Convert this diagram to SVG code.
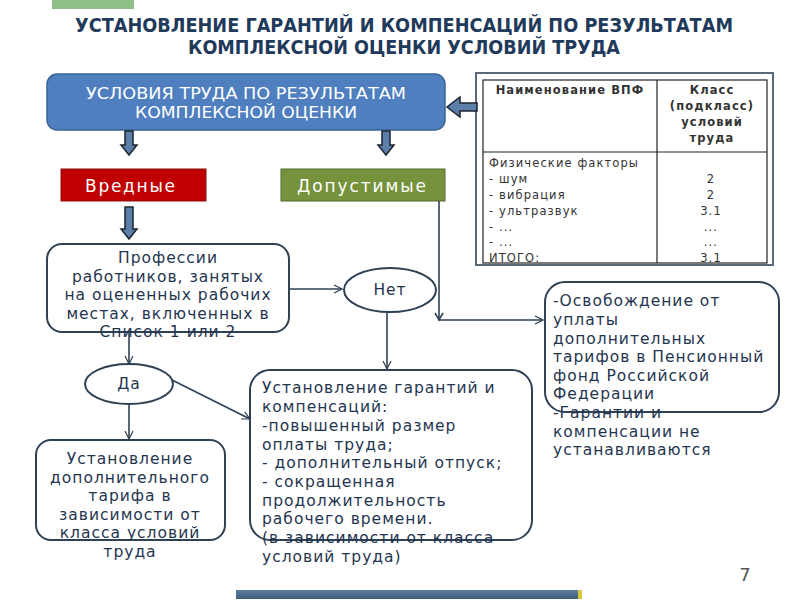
<svg xmlns="http://www.w3.org/2000/svg" width="800" height="600" viewBox="0 0 800 600">
<defs>
<marker id="open" markerWidth="10" markerHeight="10" refX="9" refY="5" orient="auto" markerUnits="userSpaceOnUse">
<path d="M1,1 L9,5 L1,9" fill="none" stroke="#2f4154" stroke-width="1.2"/>
</marker>
<linearGradient id="bar" x1="0" y1="0" x2="0" y2="1">
<stop offset="0" stop-color="#5c7d9c"/><stop offset="1" stop-color="#3e5f7e"/>
</linearGradient>
</defs>
<style>
.t{font-family:"DejaVu Sans","Liberation Sans",sans-serif;fill:#1f3550}
.title{font-family:"DejaVu Sans Condensed","DejaVu Sans",sans-serif;font-weight:bold;font-size:19px;fill:#1f3a5a;text-anchor:middle}
.box{fill:#fff;stroke:#2f4154;stroke-width:2}
.b15{font-size:15.5px;letter-spacing:1px}
.c{text-anchor:middle}
.w{fill:#fff}
.tb{font-size:11.5px;fill:#333;letter-spacing:1.1px}
.ln{fill:none;stroke:#2f4154;stroke-width:1.6}
.blk{fill:#5b7fa8;stroke:#1a2430;stroke-width:1.5}
.lab{font-size:17px;letter-spacing:2px}
</style>
<rect width="800" height="600" fill="#fff"/>
<rect x="52" y="0" width="82" height="9" fill="#8dbf86"/>
<text class="title" x="404" y="32" textLength="658" lengthAdjust="spacingAndGlyphs">УСТАНОВЛЕНИЕ ГАРАНТИЙ И КОМПЕНСАЦИЙ ПО РЕЗУЛЬТАТАМ</text>
<text class="title" x="404" y="54" textLength="432" lengthAdjust="spacingAndGlyphs">КОМПЛЕКСНОЙ ОЦЕНКИ УСЛОВИЙ ТРУДА</text>

<g id="main">
<rect x="47" y="74" width="398" height="56" rx="10" fill="#4f7fbf" stroke="#3a6496" stroke-width="1.5"/>
<text class="t w c" x="246" y="99" font-size="15" textLength="320" lengthAdjust="spacingAndGlyphs">УСЛОВИЯ ТРУДА ПО РЕЗУЛЬТАТАМ</text>
<text class="t w c" x="246" y="118" font-size="15" textLength="222" lengthAdjust="spacingAndGlyphs">КОМПЛЕКСНОЙ ОЦЕНКИ</text>
</g>

<g id="vrednye">
<rect x="61" y="169" width="145" height="32" fill="#c00000" stroke="#8a1010" stroke-width="1"/>
<text class="t w lab" x="85" y="192" textLength="92">Вредные</text>
</g>
<g id="dopustimye">
<rect x="281" y="169" width="164" height="32" fill="#76923c" stroke="#556b2a" stroke-width="1"/>
<text class="t w lab" x="297" y="192" textLength="131">Допустимые</text>
</g>

<g id="table">
<rect x="476" y="73" width="297" height="192" fill="#fff" stroke="#5a6a78" stroke-width="2"/>
<rect x="483" y="80" width="284" height="183" fill="#fff" stroke="#222" stroke-width="1.2"/>
<line x1="657" y1="80" x2="657" y2="263" stroke="#222" stroke-width="1.2"/>
<line x1="483" y1="152" x2="767" y2="152" stroke="#222" stroke-width="1.2"/>
<g class="t tb" font-weight="bold" fill="#333">
<text x="570" y="94" class="c">Наименование ВПФ</text>
<text x="712" y="94" class="c">Класс</text>
<text x="712" y="110" class="c">(подкласс)</text>
<text x="712" y="126" class="c">условий</text>
<text x="712" y="142" class="c">труда</text>
</g>
<g class="t tb">
<text x="489" y="167">Физические факторы</text>
<text x="489" y="183">- шум</text>
<text x="489" y="199">- вибрация</text>
<text x="489" y="215">- ультразвук</text>
<text x="489" y="231">- ...</text>
<text x="489" y="246">- ...</text>
<text x="489" y="262">ИТОГО:</text>
<text x="711" y="183" class="c">2</text>
<text x="711" y="199" class="c">2</text>
<text x="711" y="215" class="c">3.1</text>
<text x="711" y="231" class="c">...</text>
<text x="711" y="246" class="c">...</text>
<text x="711" y="262" class="c">3.1</text>
</g>
</g>

<g id="professii">
<rect class="box" x="47" y="244" width="242" height="88" rx="15"/>
<g class="t b15 c">
<text x="168" y="263">Профессии</text>
<text x="168" y="282">работников, занятых</text>
<text x="168" y="300">на оцененных рабочих</text>
<text x="168" y="319">местах, включенных в</text>
<text x="168" y="337">Список 1 или 2</text>
</g>
</g>

<g id="net">
<ellipse class="box" cx="390" cy="290" rx="46" ry="22"/>
<text class="t b15 c" x="390" y="295">Нет</text>
</g>

<g id="da">
<ellipse class="box" cx="129" cy="384" rx="44" ry="20"/>
<text class="t b15 c" x="129" y="389">Да</text>
</g>

<g id="tarif">
<rect class="box" x="36" y="440" width="189" height="100" rx="15"/>
<g class="t b15 c">
<text x="130" y="464">Установление</text>
<text x="130" y="483">дополнительного</text>
<text x="130" y="501">тарифа в</text>
<text x="130" y="520">зависимости от</text>
<text x="130" y="538">класса условий</text>
<text x="130" y="557">труда</text>
</g>
</g>

<g id="garantii">
<rect class="box" x="250" y="370" width="282" height="170" rx="20"/>
<g class="t b15">
<text x="262" y="393">Установление гарантий и</text>
<text x="262" y="412">компенсаций:</text>
<text x="262" y="431">-повышенный размер</text>
<text x="262" y="450">оплаты труда;</text>
<text x="262" y="468">- дополнительный отпуск;</text>
<text x="262" y="487">- сокращенная</text>
<text x="262" y="506">продолжительность</text>
<text x="262" y="524">рабочего времени.</text>
<text x="262" y="543">(в зависимости от класса</text>
<text x="262" y="562">условий труда)</text>
</g>
</g>

<g id="osvobozhdenie">
<rect class="box" x="545" y="282" width="234" height="130" rx="20"/>
<g class="t b15">
<text x="553" y="306">-Освобождение от</text>
<text x="553" y="325">уплаты</text>
<text x="553" y="344">дополнительных</text>
<text x="553" y="362">тарифов в Пенсионный</text>
<text x="553" y="381">фонд Российской</text>
<text x="553" y="399">Федерации</text>
<text x="553" y="418">-Гарантии и</text>
<text x="553" y="437">компенсации не</text>
<text x="553" y="455">устанавливаются</text>
</g>
</g>

<g id="connectors">
<path class="blk" d="M125,131 L133,131 L133,145 L137,145 L129,155 L121,145 L125,145 Z"/>
<path class="blk" d="M382,131 L390,131 L390,145 L394,145 L386,155 L378,145 L382,145 Z"/>
<path class="blk" d="M125,207 L133,207 L133,229 L137,229 L129,239 L121,229 L125,229 Z"/>
<path class="blk" d="M477,103 L460,103 L460,97 L447,107 L460,117 L460,111 L477,111 Z"/>
<line class="ln" x1="289" y1="289" x2="342" y2="289" marker-end="url(#open)"/>
<path class="ln" d="M439,201 L439,320 L543,320" marker-end="url(#open)"/>
<path class="ln" d="M435,313 L439,320 L443,313"/>
<line class="ln" x1="387" y1="312" x2="387" y2="369" marker-end="url(#open)"/>
<line class="ln" x1="129" y1="332" x2="129" y2="364" marker-end="url(#open)"/>
<line class="ln" x1="172" y1="380" x2="250" y2="419" marker-end="url(#open)"/>
<line class="ln" x1="129" y1="404" x2="129" y2="439" marker-end="url(#open)"/>
</g>

<rect x="236" y="590" width="344" height="9" fill="url(#bar)"/>
<rect x="578" y="590" width="4" height="9" fill="#d8c840"/>
<text x="745" y="581" font-family="DejaVu Sans, sans-serif" font-size="18" fill="#555" text-anchor="middle">7</text>
</svg>
